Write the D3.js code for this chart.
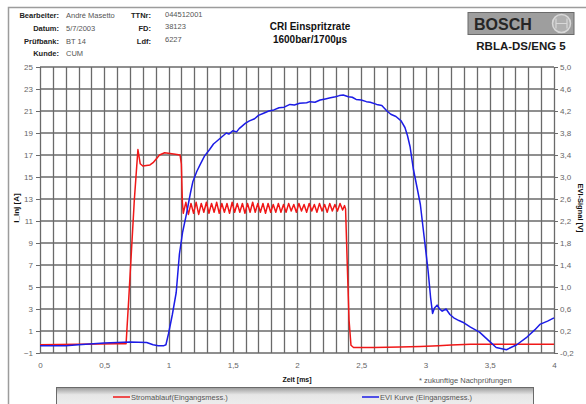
<!DOCTYPE html>
<html>
<head>
<meta charset="utf-8">
<script src="https://cdn.jsdelivr.net/npm/d3@7"></script>
<style>
body { margin: 0; background: #fff; font-family: "Liberation Sans", Arial, sans-serif; }
</style>
</head>
<body>
<div id="chart"></div>
<script>
// header fields
const infoLabels = ["Bearbeiter:", "Datum:", "Prüfbank:", "Kunde:"];
const infoValues = ["André Masetto", "5/7/2003", "BT 14", "CUM"];
const info2Labels = ["TTNr:", "FD:", "Ldf:"];
const info2Values = ["044512001", "38123", "6227"];
const titleLines = ["CRI Einspritzrate", "1600bar/1700µs"];

// axes
const xTicks = [0, 0.5, 1, 1.5, 2, 2.5, 3, 3.5, 4];
const leftTicks = [-1, 1, 3, 5, 7, 9, 11, 13, 15, 17, 19, 21, 23, 25];
const rightTicks = [-0.2, 0.2, 0.6, 1.0, 1.4, 1.8, 2.2, 2.6, 3.0, 3.4, 3.8, 4.2, 4.6, 5.0];
const seriesNames = ["Stromablauf(Eingangsmess.)", "EVI Kurve (Eingangsmess.)"];

// Stromablauf: [Zeit ms, I_Inj A]
const strom = [
  [0, -0.25], [0.3, -0.2], [0.6, -0.15], [0.67, -0.15], [0.69, 3.8], [0.734, 12.9], [0.762, 17.5],
  [0.78, 16.2], [0.8, 16.0], [0.856, 16.1], [0.88, 16.3], [0.93, 17.0], [0.97, 17.2], [1.04, 17.1],
  [1.09, 17.0], [1.1, 16.2], [1.108, 12.7],
  [1.115, 11.7], [1.135, 12.7], [1.155, 11.6], [1.175, 12.6], [1.195, 11.7], [1.215, 12.7],
  [1.235, 11.6], [1.255, 12.6], [1.275, 11.8], [1.295, 12.7], [1.315, 11.7], [1.335, 12.6],
  [1.355, 11.8], [1.375, 12.7], [1.395, 11.7], [1.415, 12.6], [1.435, 11.8], [1.455, 12.6],
  [1.475, 11.7], [1.495, 12.7], [1.515, 11.8], [1.535, 12.6], [1.555, 11.8], [1.575, 12.6],
  [1.595, 11.7], [1.615, 12.6], [1.635, 11.8], [1.655, 12.7], [1.675, 11.8], [1.695, 12.6],
  [1.715, 11.8], [1.735, 12.6], [1.755, 11.7], [1.775, 12.6], [1.795, 11.8], [1.815, 12.5],
  [1.835, 11.8], [1.855, 12.6], [1.875, 11.8], [1.895, 12.5], [1.915, 11.8], [1.935, 12.6],
  [1.955, 11.9], [1.975, 12.5], [1.995, 11.8], [2.015, 12.6], [2.035, 11.9], [2.055, 12.5],
  [2.075, 11.8], [2.095, 12.6], [2.115, 11.9], [2.135, 12.5], [2.155, 11.8], [2.175, 12.6],
  [2.195, 11.9], [2.215, 12.5], [2.235, 11.8], [2.255, 12.6], [2.275, 11.9], [2.295, 12.5],
  [2.315, 11.9], [2.335, 12.6], [2.355, 12.0], [2.37, 12.4],
  [2.378, 12.1], [2.39, 7.5], [2.405, 2.0], [2.42, -0.3], [2.44, -0.5], [2.6, -0.5], [2.8, -0.45],
  [2.96, -0.4], [3.1, -0.33], [3.2, -0.28], [3.35, -0.2], [3.6, -0.2], [4.0, -0.2]
];

// EVI Kurve: [Zeit ms, Signal V]
const evi = [
  [0, -0.07], [0.2, -0.07], [0.3, -0.05], [0.5, -0.02], [0.6, -0.01], [0.7, 0.0], [0.83, -0.01],
  [0.88, -0.05], [0.92, -0.07], [0.96, -0.07], [0.98, -0.05], [1.0, 0.15], [1.03, 0.5], [1.06, 0.9],
  [1.085, 1.6], [1.11, 2.0], [1.14, 2.33], [1.17, 2.7], [1.19, 2.92], [1.22, 3.1], [1.245, 3.22],
  [1.28, 3.38], [1.32, 3.5], [1.35, 3.6], [1.38, 3.66], [1.4, 3.7], [1.43, 3.76], [1.45, 3.8],
  [1.47, 3.78], [1.5, 3.84], [1.53, 3.82], [1.55, 3.88], [1.6, 3.98], [1.63, 4.02], [1.67, 4.06],
  [1.7, 4.12], [1.74, 4.16], [1.78, 4.2], [1.82, 4.22], [1.86, 4.26], [1.9, 4.27], [1.945, 4.32],
  [1.98, 4.31], [2.02, 4.34], [2.075, 4.35], [2.1, 4.37], [2.14, 4.36], [2.18, 4.4], [2.22, 4.42],
  [2.26, 4.44], [2.3, 4.46], [2.33, 4.48], [2.36, 4.49], [2.4, 4.46], [2.43, 4.45], [2.46, 4.41],
  [2.5, 4.4], [2.54, 4.37], [2.57, 4.36], [2.62, 4.32], [2.66, 4.3], [2.7, 4.2], [2.73, 4.14],
  [2.77, 4.1], [2.81, 4.02], [2.84, 3.9], [2.86, 3.75], [2.88, 3.55], [2.905, 3.15], [2.935, 2.8],
  [2.96, 2.5], [2.99, 1.9], [3.02, 1.3], [3.04, 0.8], [3.055, 0.52], [3.07, 0.62], [3.09, 0.67],
  [3.11, 0.6], [3.13, 0.56], [3.16, 0.6], [3.19, 0.5], [3.22, 0.44], [3.26, 0.39], [3.29, 0.36],
  [3.35, 0.27], [3.42, 0.18], [3.49, 0.03], [3.55, -0.1], [3.63, -0.14], [3.71, -0.05], [3.79, 0.09],
  [3.85, 0.22], [3.89, 0.32], [3.95, 0.38], [4.0, 0.44]
];

const W = 586, H = 404;
const plot = {left: 40, right: 554, top: 67, bottom: 353};

const svg = d3.select("#chart").append("svg")
  .attr("width", W)
  .attr("height", H);

const defs = svg.append("defs");
const grad = defs.append("linearGradient").attr("id", "legendGrad")
  .attr("x1", 0).attr("y1", 0).attr("x2", 0).attr("y2", 1);
grad.append("stop").attr("offset", "0%").attr("stop-color", "#9a9a9a");
grad.append("stop").attr("offset", "30%").attr("stop-color", "#e6e6e6");
grad.append("stop").attr("offset", "100%").attr("stop-color", "#f2f2f2");

// page frame
svg.append("path")
  .attr("d", `M8.5,${H} V7.5 H${W}`)
  .attr("fill", "none")
  .attr("stroke", "#9c9c9c")
  .attr("stroke-width", 1.5);

// header block
const hdr = svg.append("g").attr("font-size", "7.5px");
hdr.selectAll(".lbl").data(infoLabels).join("text")
  .attr("class", "lbl")
  .attr("x", 59).attr("y", (d, i) => 18 + i * 12.8)
  .attr("text-anchor", "end").attr("font-weight", "bold").attr("fill", "#222")
  .text(d => d);
hdr.selectAll(".val").data(infoValues).join("text")
  .attr("class", "val")
  .attr("x", 66).attr("y", (d, i) => 18 + i * 12.8)
  .attr("fill", "#555")
  .text(d => d);
hdr.selectAll(".lbl2").data(info2Labels).join("text")
  .attr("class", "lbl2")
  .attr("x", 151).attr("y", (d, i) => 18 + i * 12.8)
  .attr("text-anchor", "end").attr("font-weight", "bold").attr("fill", "#222")
  .text(d => d);
hdr.selectAll(".val2").data(info2Values).join("text")
  .attr("class", "val2")
  .attr("x", 165).attr("y", (d, i) => 16.5 + i * 12.8)
  .attr("fill", "#555")
  .text(d => d);

svg.selectAll(".title").data(titleLines).join("text")
  .attr("class", "title")
  .attr("x", 310).attr("y", (d, i) => 30 + i * 12.5)
  .attr("text-anchor", "middle")
  .attr("font-size", "10px")
  .attr("font-weight", "bold")
  .attr("fill", "#111")
  .text(d => d);

// logo
const logo = svg.append("g");
logo.append("rect")
  .attr("x", 468).attr("y", 12.5).attr("width", 106).attr("height", 22)
  .attr("fill", "#9e9e9e").attr("stroke", "#6a6a6a").attr("stroke-width", 1);
logo.append("text")
  .attr("x", 474).attr("y", 29.5)
  .attr("font-size", "16px").attr("font-weight", "bold").attr("fill", "#262626")
  .text("BOSCH");
logo.append("circle")
  .attr("cx", 561.5).attr("cy", 23.5).attr("r", 9)
  .attr("fill", "#b0b0b0").attr("stroke", "#d8d8d8").attr("stroke-width", 1.5);
logo.append("path")
  .attr("d", "M556,18.5 V28.5 M567,18.5 V28.5 M556,23.5 H567")
  .attr("stroke", "#d8d8d8").attr("stroke-width", 1.2).attr("fill", "none");
svg.append("text")
  .attr("x", 521).attr("y", 49.5)
  .attr("text-anchor", "middle")
  .attr("font-size", "11.5px").attr("font-weight", "bold").attr("fill", "#1a1a1a")
  .text("RBLA-DS/ENG 5");

// scales
const x = d3.scaleLinear().domain([0, 4]).range([plot.left, plot.right]);
const yL = d3.scaleLinear().domain([-1, 25]).range([plot.bottom, plot.top]);
const yR = d3.scaleLinear().domain([-0.2, 5.0]).range([plot.bottom, plot.top]);

// grid
const grid = svg.append("g").attr("stroke", "#6a6a6a").attr("stroke-width", 1.3);
grid.selectAll(".vg").data(x.ticks(40)).join("line")
  .attr("class", "vg")
  .attr("x1", d => Math.round(x(d)) + 0.5).attr("x2", d => Math.round(x(d)) + 0.5)
  .attr("y1", plot.top).attr("y2", plot.bottom);
grid.selectAll(".hg").data(leftTicks).join("line")
  .attr("class", "hg")
  .attr("x1", plot.left).attr("x2", plot.right)
  .attr("y1", d => yL(d)).attr("y2", d => yL(d));

// axes
const fmtX = d => String(d).replace(".", ",");
const fmtR = d => d.toFixed(1).replace(".", ",");

const xAxis = svg.append("g")
  .attr("transform", `translate(0,${plot.bottom + 6})`)
  .call(d3.axisBottom(x).tickValues(xTicks).tickFormat(fmtX).tickSize(0));
const leftAxis = svg.append("g")
  .attr("transform", `translate(${plot.left},0)`)
  .call(d3.axisLeft(yL).tickValues(leftTicks).tickSize(4).tickPadding(3));
const rightAxis = svg.append("g")
  .attr("transform", `translate(${plot.right},0)`)
  .call(d3.axisRight(yR).tickValues(rightTicks).tickFormat(fmtR).tickSize(4).tickPadding(2));

[xAxis, leftAxis, rightAxis].forEach(a => {
  a.select(".domain").remove();
  a.selectAll("text")
    .attr("fill", "#666")
    .style("font-size", "8px")
    .style("font-family", "'Liberation Sans', Arial, sans-serif");
  a.selectAll("line").attr("stroke", "#6a6a6a");
});

// series
const lineL = d3.line().x(d => x(d[0])).y(d => yL(d[1]));
const lineR = d3.line().x(d => x(d[0])).y(d => yR(d[1]));

svg.append("path").datum(strom)
  .attr("d", lineL)
  .attr("fill", "none").attr("stroke", "#f01818").attr("stroke-width", 1.5)
  .attr("stroke-linejoin", "round");
svg.append("path").datum(evi)
  .attr("d", lineR)
  .attr("fill", "none").attr("stroke", "#1c1ce6").attr("stroke-width", 1.5)
  .attr("stroke-linejoin", "round");

// axis titles
svg.append("text")
  .attr("transform", "translate(19,208) rotate(-90)")
  .attr("text-anchor", "middle")
  .attr("font-size", "8px").attr("font-weight", "bold").attr("fill", "#111")
  .text("I_Inj [A]");
svg.append("text")
  .attr("transform", "translate(578,208) rotate(90)")
  .attr("text-anchor", "middle")
  .attr("font-size", "7.5px").attr("font-weight", "bold").attr("fill", "#111")
  .text("EVI-Signal [V]");
svg.append("text")
  .attr("x", 297).attr("y", 382)
  .attr("text-anchor", "middle")
  .attr("font-size", "7px").attr("font-weight", "bold").attr("fill", "#111")
  .text("Zeit [ms]");
svg.append("text")
  .attr("x", 419).attr("y", 383)
  .attr("font-size", "7.5px").attr("fill", "#555")
  .text("* zukunftige Nachprüfungen");

// legend
const legend = svg.append("g");
legend.append("rect")
  .attr("x", 56.5).attr("y", 387.5).attr("width", 477).attr("height", 24)
  .attr("fill", "url(#legendGrad)").attr("stroke", "#6a6a6a").attr("stroke-width", 1);
const legendX = [113, 362];
const legendColors = ["#f01818", "#1c1ce6"];
const items = legend.selectAll(".item").data(seriesNames).join("g")
  .attr("class", "item")
  .attr("transform", (d, i) => `translate(${legendX[i]},397)`);
items.append("line")
  .attr("x1", 0).attr("x2", 17).attr("y1", 0).attr("y2", 0)
  .attr("stroke", (d, i) => legendColors[i]).attr("stroke-width", 1.5);
items.append("text")
  .attr("x", 18).attr("y", 3)
  .attr("font-size", "7.5px").attr("fill", "#555")
  .text(d => d);
</script>
</body>
</html>
